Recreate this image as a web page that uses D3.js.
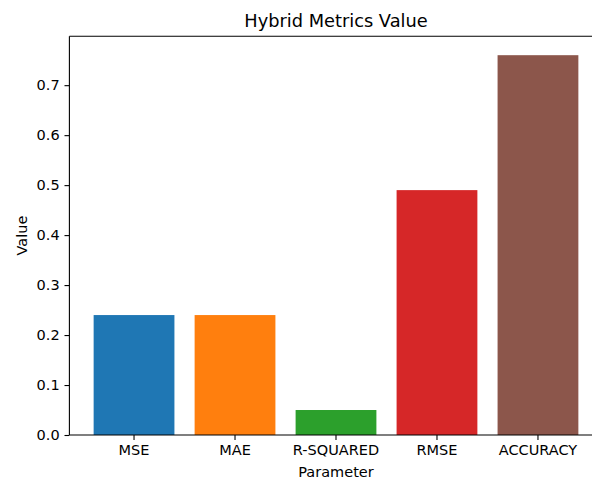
<!DOCTYPE html>
<html><head><meta charset="utf-8">
<script src="https://cdn.jsdelivr.net/npm/d3@7"></script>
<style>body{margin:0;background:#fff}svg{display:block}text{font-family:"DejaVu Sans",sans-serif;fill:#000}</style>
</head><body>
<script>
const categories = ["MSE","MAE","R-SQUARED","RMSE","ACCURACY"];
const values = [0.24,0.24,0.05,0.49,0.76];
const colors = ["#1f77b4","#ff7f0e","#2ca02c","#d62728","#8c564b"];
const yTicks = [0,0.1,0.2,0.3,0.4,0.5,0.6,0.7];
const title = "Hybrid Metrics Value";
const xTitle = "Parameter", yTitle = "Value";

const W=592,H=482;
const L=69.4,R=602.6,T=36.2,B=435;
const svg=d3.select("body").append("svg").attr("width",W).attr("height",H);
const x=d3.scaleBand().domain(categories).range([L,R]).paddingInner(0.2).paddingOuter(0.24);
const y=d3.scaleLinear().domain([0,0.798]).range([B,T]);

svg.append("g").selectAll("rect").data(values).join("rect")
  .attr("x",(d,i)=>x(categories[i])).attr("width",x.bandwidth())
  .attr("y",d=>y(d)).attr("height",d=>y(0)-y(d))
  .attr("fill",(d,i)=>colors[i]);

const gx=svg.append("g").attr("transform",`translate(0,${B})`)
  .call(d3.axisBottom(x).tickSize(4.9).tickPadding(4.9).tickSizeOuter(0));
const gy=svg.append("g").attr("transform",`translate(${L},0)`)
  .call(d3.axisLeft(y).tickValues(yTicks).tickFormat(d3.format(".1f")).tickSize(4.9).tickPadding(4.9).tickSizeOuter(0));
[gx,gy].forEach(g=>{
  g.selectAll("text").attr("font-size",14.5).attr("font-family","DejaVu Sans").attr("fill","#000");
  g.selectAll("line").attr("stroke","#000").attr("stroke-width",1.1);
  g.select(".domain").remove();
});
// spines
svg.append("line").attr("x1",L).attr("x2",L).attr("y1",T).attr("y2",B).attr("stroke","#000").attr("stroke-width",1.1);
svg.append("line").attr("x1",L).attr("x2",R).attr("y1",B).attr("y2",B).attr("stroke","#000").attr("stroke-width",1.1);
svg.append("line").attr("x1",L).attr("x2",R).attr("y1",T).attr("y2",T).attr("stroke","#000").attr("stroke-width",1.1);
svg.append("line").attr("x1",R).attr("x2",R).attr("y1",T).attr("y2",B).attr("stroke","#000").attr("stroke-width",1.1);

svg.append("text").attr("x",(L+R)/2).attr("y",26.5).attr("text-anchor","middle").attr("font-size",17.8).text(title);
svg.append("text").attr("x",(L+R)/2).attr("y",477).attr("text-anchor","middle").attr("font-size",14.5).text(xTitle);
svg.append("text").attr("transform",`translate(27,${(T+B)/2}) rotate(-90)`).attr("text-anchor","middle").attr("font-size",14.5).text(yTitle);
</script>
</body></html>
